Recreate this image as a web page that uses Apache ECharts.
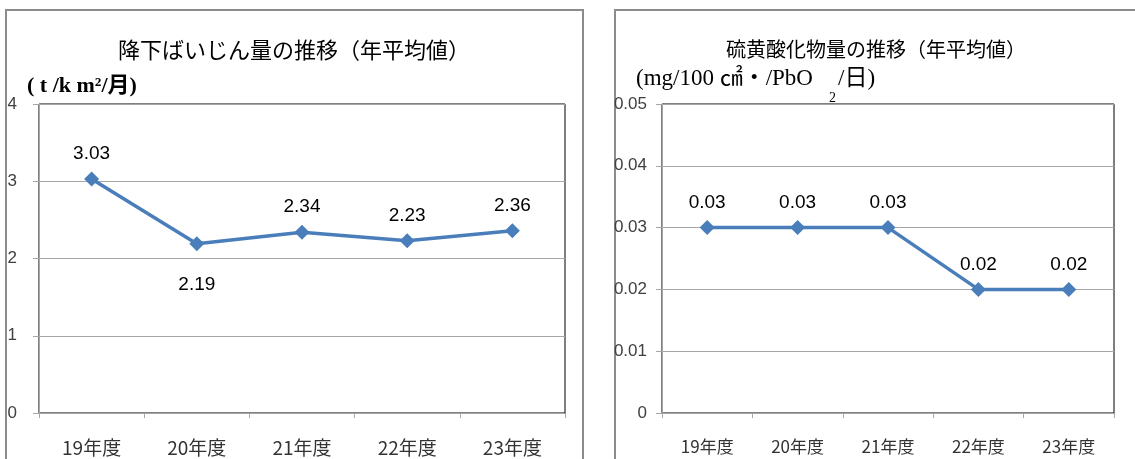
<!DOCTYPE html>
<html>
<head>
<meta charset="utf-8">
<script src="https://cdn.jsdelivr.net/npm/echarts@6/dist/echarts.min.js"></script>
<style>
  html, body { margin: 0; padding: 0; background: #fff; }
  #chart { width: 1135px; height: 459px; }
</style>
</head>
<body>
<div id="chart"></div>
<script>
const categories = ['19年度', '20年度', '21年度', '22年度', '23年度'];
const dustValues = [3.03, 2.19, 2.34, 2.23, 2.36];
const dustLabelPos = ['top', 'bottom', 'top', 'top', 'top'];
const soxValues = [0.03, 0.03, 0.03, 0.02, 0.02];

const lineBlue = '#4a7ebb';
const sans = '"Liberation Sans", Arial, sans-serif';
const cjk = '"Noto Sans CJK JP", "Noto Sans", sans-serif';
const serif = '"Liberation Serif", "DejaVu Serif", "Noto Sans CJK JP", serif';

const chart = echarts.init(document.getElementById('chart'));

function xAxisFor(gridIndex, fontSize) {
  return {
    type: 'category',
    gridIndex,
    data: categories,
    boundaryGap: true,
    axisLine: { lineStyle: { color: '#a6a6a6', width: 1 } },
    axisTick: { show: true, length: 5, lineStyle: { color: '#a6a6a6' } },
    axisLabel: { color: '#333', fontFamily: cjk, fontSize, margin: 25 },
    splitLine: { show: false }
  };
}

function yAxisFor(gridIndex, max, interval, margin) {
  return {
    type: 'value',
    gridIndex,
    min: 0,
    max,
    interval,
    axisLine: { show: true, lineStyle: { color: '#a6a6a6', width: 1 } },
    axisTick: { show: true, length: 6, lineStyle: { color: '#a6a6a6' } },
    axisLabel: { color: '#404040', fontFamily: sans, fontSize: 17, margin },
    splitLine: { show: true, lineStyle: { color: '#a6a6a6', width: 1 } }
  };
}

const labelStyle = { show: true, color: '#000', fontFamily: sans, fontSize: 19 };

function text(left, top, str, size, family, weight) {
  return {
    type: 'text', left, top,
    style: { text: str, fontSize: size, fontFamily: family, fontWeight: weight || 'normal', fill: '#000' }
  };
}

chart.setOption({
  animation: false,
  backgroundColor: '#fff',
  grid: [
    { left: 39, right: 1135 - 565, top: 104, bottom: 459 - 413, show: true, borderColor: '#000', borderWidth: 1 },
    { left: 662, right: 1135 - 1114, top: 104, bottom: 459 - 413, show: true, borderColor: '#000', borderWidth: 1 }
  ],
  xAxis: [xAxisFor(0, 19), xAxisFor(1, 17)],
  yAxis: [yAxisFor(0, 4, 1, 22), yAxisFor(1, 0.05, 0.01, 15)],
  series: [
    {
      type: 'line',
      xAxisIndex: 0,
      yAxisIndex: 0,
      data: dustValues.map((v, i) => ({
        value: v,
        label: { position: dustLabelPos[i], distance: dustLabelPos[i] === 'bottom' ? 24 : 8 }
      })),
      symbol: 'diamond',
      symbolSize: 15,
      lineStyle: { color: lineBlue, width: 3.5 },
      itemStyle: { color: lineBlue },
      label: Object.assign({ distance: 8 }, labelStyle)
    },
    {
      type: 'line',
      xAxisIndex: 1,
      yAxisIndex: 1,
      data: soxValues,
      symbol: 'diamond',
      symbolSize: 15,
      lineStyle: { color: lineBlue, width: 3.5 },
      itemStyle: { color: lineBlue },
      label: Object.assign({ position: 'top', distance: 8 }, labelStyle)
    }
  ],
  graphic: [
    { type: 'rect', shape: { x: 6, y: 10, width: 577, height: 470 }, style: { fill: 'none', stroke: '#8c8c8c', lineWidth: 2 }, z: -10 },
    { type: 'rect', shape: { x: 615, y: 10, width: 560, height: 470 }, style: { fill: 'none', stroke: '#8c8c8c', lineWidth: 2 }, z: -10 },
    text(118, 39, '降下ばいじん量の推移（年平均値）', 22, cjk),
    text(726, 39, '硫黄酸化物量の推移（年平均値）', 20, cjk),
    text(27, 75, '( t /k m²/月)', 22, serif, 'bold'),
    text(636, 67, '(mg/100 ㎠・/PbO', 23, serif),
    text(829, 91, '2', 14, serif),
    text(838, 67, '/日)', 23, serif)
  ]
});
</script>
</body>
</html>
